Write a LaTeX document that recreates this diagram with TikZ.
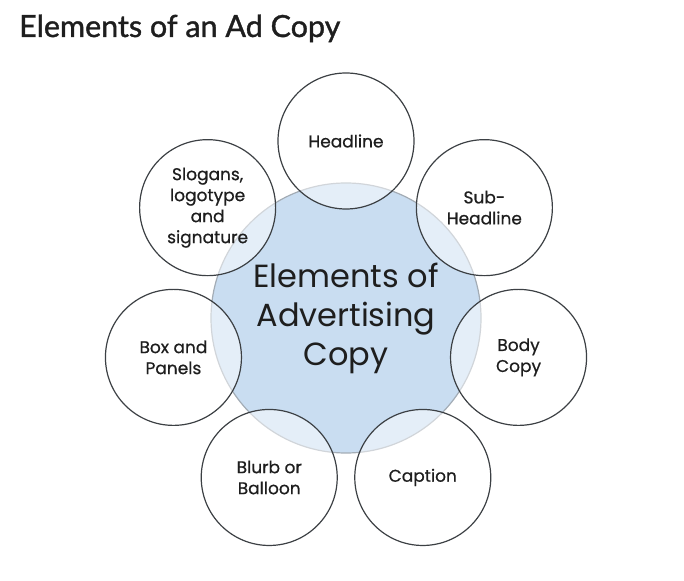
\documentclass[tikz,border=0pt]{standalone}
\usepackage{fontspec}
\setmainfont{Poppins}[FakeBold=0.6]
\newfontfamily\hubfont{Poppins}
\newfontfamily\titlefont{Lato}[FakeBold=1.2]
\usepackage{tikz}
\usetikzlibrary{positioning}
\definecolor{hubBlue}{HTML}{C9DDF1}
\definecolor{hubEdge}{HTML}{A3ACB5}
\definecolor{leafEdge}{HTML}{3C4044}
\definecolor{inkDark}{HTML}{1E1E1E}

\begin{document}
\begin{tikzpicture}[x=1pt, y=1pt,
  hub/.style={circle, draw=hubEdge, line width=1.2pt, fill=hubBlue, minimum size=270pt, inner sep=0pt},
  leaf/.style={circle, draw=leafEdge, line width=1.2pt, fill=white, fill opacity=0.5, text opacity=1, minimum size=136pt, inner sep=0pt, align=center, font=\fontsize{17}{21}\selectfont, text=inkDark}]
\useasboundingbox (-346,-262) rectangle (338,318);
\node[anchor=base west, inner sep=0pt, font=\titlefont\fontsize{30.5}{32}\selectfont, text=inkDark] (title) at (-327,281) {Elements of an Ad Copy};
\node[hub] (hub) at (0,0) {};
% seven elements around the hub
\node[leaf] (headline) at (90:177) {Headline};
\node[leaf] (slogans) at (141.43:177) {Slogans,\\logotype\\and\\signature};
\node[leaf] (box) at (192.86:177) {Box and\\Panels};
\node[leaf] (blurb) at (244.29:177) {Blurb or\\Balloon};
\node[leaf] (caption) at (295.71:177) {Caption};
\node[leaf] (body) at (347.14:177) {Body\\Copy};
\node[leaf] (subhead) at (38.57:177) {Sub-\\Headline};
\node[align=center, font=\hubfont\fontsize{32}{39}\selectfont, text=inkDark] (hubtext) at (hub) {Elements of\\Advertising\\Copy};
\end{tikzpicture}
\end{document}
